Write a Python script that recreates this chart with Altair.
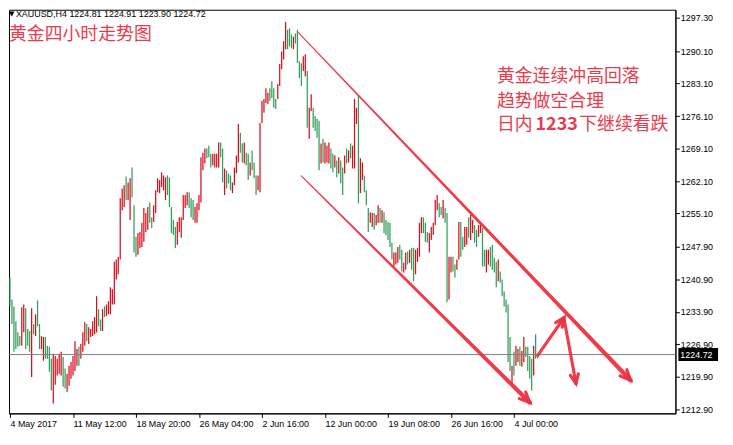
import math
import altair as alt
import pandas as pd

# ---- data (H4 bars: high, low, 1 = up/red, 0 = down/green) ----
high = [1241.3, 1236.6, 1235.1, 1231.9, 1229.5, 1228.7, 1234.9, 1235.5, 1234.7, 1230.2,
        1229.8, 1234.7, 1231.3, 1233.4, 1236.4, 1231.3, 1228.7, 1228.5, 1228.5, 1226.6,
        1226.4, 1223.8, 1224.9, 1224.4, 1223.8, 1224.9, 1225.3, 1224.2, 1221.7, 1220.6,
        1222.3, 1223.1, 1224.4, 1227.6, 1225.9, 1226.4, 1227.0, 1229.5, 1231.7, 1231.3,
        1230.6, 1230.2, 1231.9, 1232.8, 1237.3, 1234.5, 1232.3, 1234.5, 1235.1, 1235.5,
        1236.2, 1239.2, 1238.8, 1244.7, 1245.2, 1245.8, 1258.4, 1260.5, 1261.2, 1263.1,
        1261.8, 1262.7, 1265.0, 1256.9, 1250.1, 1250.9, 1251.1, 1253.1, 1256.3, 1255.2,
        1256.5, 1257.5, 1254.3, 1256.9, 1260.1, 1262.7, 1262.3, 1264.0, 1263.3, 1262.9,
        1263.3, 1262.9, 1256.5, 1253.7, 1252.2, 1253.3, 1254.3, 1254.3, 1259.1, 1259.1,
        1259.7, 1259.7, 1258.4, 1258.0, 1256.5, 1257.3, 1259.1, 1267.2, 1268.2, 1269.1,
        1269.1, 1269.7, 1268.0, 1268.0, 1268.0, 1268.0, 1270.4, 1270.4, 1269.1, 1264.8,
        1264.4, 1263.7, 1263.3, 1261.8, 1265.0, 1267.6, 1274.4, 1272.5, 1270.2, 1270.4,
        1268.2, 1268.0, 1266.1, 1268.7, 1266.1, 1263.3, 1263.3, 1274.6, 1279.4, 1279.8,
        1282.1, 1281.1, 1282.1, 1283.6, 1282.1, 1279.8, 1283.0, 1287.3, 1290.0, 1292.2,
        1296.4, 1294.7, 1295.0, 1293.7, 1293.2, 1293.9, 1294.7, 1287.9, 1287.5, 1289.0,
        1289.4, 1285.8, 1277.9, 1280.8, 1277.9, 1276.1, 1275.5, 1275.1, 1270.2, 1271.2,
        1270.4, 1269.7, 1270.4, 1269.1, 1268.0, 1267.6, 1266.5, 1267.2, 1266.5, 1265.0,
        1267.6, 1269.1, 1268.7, 1270.2, 1269.7, 1279.8, 1277.9, 1280.4, 1267.0, 1266.1,
        1263.3, 1260.1, 1256.3, 1255.4, 1255.2, 1255.2, 1254.8, 1256.9, 1256.3, 1255.8,
        1255.4, 1253.7, 1253.3, 1253.1, 1248.8, 1246.7, 1246.7, 1247.9, 1248.4, 1247.3,
        1244.5, 1246.7, 1246.9, 1247.3, 1247.7, 1247.7, 1247.3, 1247.7, 1253.1, 1254.3,
        1254.3, 1253.1, 1251.1, 1250.9, 1252.2, 1253.1, 1258.0, 1259.1, 1257.3, 1256.5,
        1258.0, 1256.3, 1255.2, 1245.8, 1245.8, 1245.8, 1244.1, 1245.2, 1253.3, 1253.3,
        1250.1, 1252.2, 1252.2, 1254.3, 1254.8, 1253.7, 1252.6, 1251.6, 1252.6, 1253.1,
        1252.0, 1247.3, 1247.3, 1247.3, 1247.9, 1248.4, 1245.6, 1244.7, 1245.2, 1242.6,
        1240.9, 1238.3, 1236.6, 1235.5, 1228.5, 1222.3, 1225.3, 1226.6, 1225.9, 1226.4,
        1225.5, 1228.5, 1226.4, 1226.4, 1224.4, 1223.8, 1226.6, 1229.1, 1224.91]
low = [1235.1, 1231.3, 1225.3, 1225.9, 1226.4, 1226.6, 1226.6, 1229.5, 1225.9, 1226.6,
       1225.3, 1219.9, 1229.1, 1228.7, 1230.8, 1225.9, 1225.9, 1223.4, 1223.8, 1223.8,
       1221.0, 1217.0, 1214.2, 1218.2, 1220.2, 1220.6, 1220.2, 1217.8, 1217.4, 1216.7,
       1218.0, 1219.5, 1220.2, 1221.2, 1222.3, 1222.3, 1223.8, 1225.3, 1226.6, 1227.6,
       1227.0, 1228.5, 1228.7, 1229.1, 1229.5, 1230.8, 1229.8, 1229.8, 1232.8, 1233.0,
       1233.4, 1233.4, 1235.5, 1235.5, 1240.9, 1242.0, 1245.2, 1255.8, 1256.5, 1258.0,
       1258.0, 1253.7, 1258.6, 1246.7, 1245.8, 1246.2, 1247.7, 1247.9, 1249.0, 1251.1,
       1251.6, 1253.1, 1252.0, 1253.3, 1255.2, 1259.7, 1259.5, 1260.8, 1260.1, 1258.0,
       1259.1, 1256.5, 1250.9, 1250.5, 1247.7, 1248.4, 1251.1, 1249.9, 1253.7, 1256.3,
       1256.9, 1256.3, 1254.3, 1253.7, 1253.1, 1253.1, 1255.8, 1257.5, 1264.4, 1265.9,
       1267.0, 1267.2, 1265.0, 1265.5, 1265.0, 1265.0, 1265.0, 1267.2, 1261.8, 1259.1,
       1260.5, 1261.6, 1260.1, 1259.5, 1261.2, 1263.8, 1266.1, 1268.2, 1266.1, 1265.9,
       1265.5, 1262.3, 1263.3, 1264.4, 1262.7, 1259.1, 1260.1, 1259.7, 1274.6, 1276.8,
       1278.9, 1278.7, 1279.4, 1280.0, 1277.9, 1277.6, 1279.8, 1282.6, 1286.2, 1288.3,
       1290.5, 1290.5, 1291.1, 1290.7, 1290.5, 1291.7, 1287.5, 1284.3, 1282.6, 1285.8,
       1284.7, 1273.6, 1271.2, 1277.2, 1273.6, 1272.9, 1271.4, 1264.4, 1265.9, 1266.1,
       1265.9, 1266.1, 1265.9, 1264.8, 1264.0, 1265.0, 1262.9, 1263.7, 1261.6, 1259.1,
       1263.7, 1265.9, 1266.1, 1267.0, 1264.8, 1264.8, 1274.4, 1257.3, 1259.5, 1262.3,
       1259.7, 1256.9, 1251.1, 1253.1, 1252.2, 1251.6, 1252.6, 1253.1, 1253.1, 1253.1,
       1250.9, 1250.5, 1249.4, 1247.9, 1245.2, 1243.7, 1244.1, 1244.5, 1245.2, 1242.6,
       1242.4, 1243.0, 1244.1, 1244.5, 1243.0, 1240.5, 1242.0, 1244.7, 1245.8, 1250.9,
       1250.9, 1249.0, 1248.8, 1246.7, 1249.4, 1250.5, 1252.6, 1255.8, 1254.3, 1254.8,
       1254.1, 1253.1, 1236.0, 1236.6, 1242.4, 1242.6, 1241.3, 1243.0, 1245.2, 1245.8,
       1247.3, 1247.9, 1248.4, 1249.9, 1249.4, 1250.9, 1248.8, 1247.9, 1250.1, 1250.9,
       1243.7, 1243.7, 1242.4, 1244.1, 1243.7, 1243.0, 1242.4, 1239.2, 1240.5, 1240.2,
       1237.3, 1235.1, 1233.8, 1223.1, 1221.2, 1218.5, 1220.2, 1222.3, 1223.1, 1222.3,
       1222.1, 1223.1, 1224.2, 1221.2, 1219.5, 1217.0, 1220.2, 1223.8, 1223.90]
up = [0, 0, 0, 0, 0, 0, 1, 1, 0, 0, 0, 1, 0, 1, 0, 0, 1, 1, 0, 0,
      0, 0, 1, 1, 1, 1, 1, 0, 0, 1, 1, 1, 1, 1, 1, 0, 1, 1, 1, 0,
      1, 1, 1, 1, 1, 0, 0, 1, 0, 1, 1, 1, 1, 1, 1, 1, 1, 1, 1, 0,
      1, 1, 0, 0, 0, 1, 1, 1, 1, 1, 1, 0, 0, 1, 1, 1, 1, 1, 1, 1,
      0, 0, 0, 0, 0, 1, 1, 1, 1, 1, 1, 0, 0, 0, 1, 1, 1, 1, 1, 1,
      0, 0, 0, 1, 1, 1, 1, 0, 0, 1, 0, 0, 0, 1, 1, 1, 1, 0, 0, 1,
      0, 0, 1, 0, 0, 0, 1, 1, 1, 1, 1, 1, 0, 0, 0, 0, 1, 1, 1, 1,
      1, 0, 0, 0, 1, 0, 0, 0, 0, 1, 1, 0, 1, 1, 0, 0, 0, 0, 1, 0,
      1, 1, 1, 0, 0, 1, 0, 1, 0, 0, 1, 0, 1, 0, 1, 1, 1, 0, 1, 1,
      0, 0, 0, 1, 1, 0, 1, 1, 0, 1, 0, 0, 0, 0, 0, 1, 1, 1, 0, 0,
      1, 1, 0, 1, 0, 0, 1, 1, 1, 1, 0, 0, 0, 1, 1, 1, 1, 1, 0, 0,
      1, 0, 0, 1, 1, 0, 0, 1, 1, 0, 0, 1, 1, 0, 1, 1, 0, 0, 1, 1,
      0, 0, 1, 1, 0, 0, 0, 0, 1, 0, 0, 0, 0, 0, 0, 1, 0, 1, 1, 0,
      1, 1, 0, 0, 0, 0, 1, 0, 0]

tick_idx = [0, 32, 64, 96, 128, 160, 192, 224, 256]
tick_text = ["4 May 2017", "11 May 12:00", "18 May 20:00", "26 May 04:00", "2 Jun 16:00",
             "12 Jun 00:00", "19 Jun 08:00", "26 Jun 16:00", "4 Jul 00:00"]
price_ticks = [1297.30, 1290.10, 1283.10, 1276.10, 1269.10, 1262.10, 1255.10,
               1247.90, 1240.90, 1233.90, 1226.90, 1219.90, 1212.90]
last_price = 1224.72
header_text = "XAUUSD,H4  1224.81 1224.91 1223.90 1224.72"
title_text = "黄金四小时走势图"
note_lines = ["黄金连续冲高回落", "趋势做空合理"]
note_line3 = ["日内", "1233", "下继续看跌"]

# hand-drawn channel lines / arrows in data units: (name, start, end, width0, width1, head size)
arrows = [
    ("upper", (146.0, 1294.3), (315.2, 1219.2), 1.0, 4.5, 420),
    ("lower", (148.0, 1263.2), (264.0, 1214.4), 1.2, 4.5, 420),
    ("up1", (268.0, 1224.5), (281.5, 1232.7), 3.0, 3.2, 330),
    ("down1", (281.5, 1232.3), (287.5, 1218.5), 3.0, 3.2, 330),
]

# ---- layout ----
W, H = 672, 407
X_DOM = [-0.5, 338]
Y_DOM = [1212.05, 1299.0]
RED = "#d80d1c"
GREEN = "#2f9f58"
ANN = "#ee3040"
TXT = "#e83c4e"
FONT = "Liberation Sans"
CJK = "Noto Sans CJK SC"

xs = alt.Scale(domain=X_DOM, nice=False, zero=False)
ys = alt.Scale(domain=Y_DOM, nice=False, zero=False)

bars = pd.DataFrame({
    "i": list(range(len(high))),
    "high": high,
    "low": low,
    "dir": ["up" if u else "down" for u in up],
})

arr_js = "[" + ",".join("'%s'" % t for t in tick_text) + "]"
idx_js = "[" + ",".join(str(v) for v in tick_idx) + "]"

x_axis = alt.Axis(values=tick_idx, labelExpr=f"{arr_js}[indexof({idx_js}, datum.value)]",
                  title=None, tickSize=4, tickColor="black", domainColor="black",
                  labelAlign="left", labelBaseline="top", labelPadding=2,
                  labelFont=FONT, labelFontSize=9, labelColor="black", grid=False,
                  labelOverlap=False, labelFlush=False)
y_axis = alt.Axis(orient="right", values=price_ticks, format=".2f", title=None,
                  tickSize=4, tickColor="black", domainColor="black",
                  labelAlign="left", labelBaseline="middle", labelPadding=1,
                  labelFont=FONT, labelFontSize=9, labelColor="black", grid=False,
                  labelOverlap=False)

def X(field):
    return alt.X(field, scale=xs, axis=x_axis)

def Y(field=None, datum=None):
    if datum is not None:
        return alt.Y(datum=datum, scale=ys, axis=y_axis)
    return alt.Y(field, scale=ys, axis=y_axis)

one = pd.DataFrame({"a": [0]})

bar_layer = alt.Chart(bars).mark_rule(strokeWidth=1.25).encode(
    x=X("i:Q"),
    y=Y("high:Q"),
    y2="low:Q",
    color=alt.Color("dir:N", scale=alt.Scale(domain=["up", "down"], range=[RED, GREEN]),
                    legend=None),
)

price_line = alt.Chart(one).mark_rule(color="#808080", strokeWidth=1).encode(
    y=Y(datum=last_price))

px_bar = W / (X_DOM[1] - X_DOM[0])
px_unit = H / (Y_DOM[1] - Y_DOM[0])

trail_rows, head_rows = [], []
for name, s, e, w0, w1, hs in arrows:
    trail_rows.append({"name": name, "i": s[0], "p": s[1], "w": w0, "o": 0})
    trail_rows.append({"name": name, "i": e[0], "p": e[1], "w": w1, "o": 1})
    dx = (e[0] - s[0]) * px_bar
    dy = -(e[1] - s[1]) * px_unit
    ang = math.degrees(math.atan2(dx, -dy)) % 360
    head_rows.append({"name": name, "i": e[0], "p": e[1], "ang": ang, "s": hs})

trails = alt.Chart(pd.DataFrame(trail_rows)).mark_trail(color=ANN, opacity=0.95).encode(
    x=X("i:Q"),
    y=Y("p:Q"),
    size=alt.Size("w:Q", scale=None, legend=None),
    detail="name:N",
    order="o:Q",
)

heads = alt.Chart(pd.DataFrame(head_rows)).mark_point(
    shape="M-0.45,1L0,0L0.45,1", filled=False, color=ANN, strokeWidth=3.2,
    opacity=0.95, strokeJoin="miter", strokeCap="round").encode(
    x=X("i:Q"),
    y=Y("p:Q"),
    angle=alt.Angle("ang:Q", scale=None),
    size=alt.Size("s:Q", scale=None, legend=None),
)

def txt(text, x, y, size, color, font, weight="normal", align="left"):
    return alt.Chart(one).mark_text(text=text, align=align, baseline="middle",
                                    fontSize=size, font=font, color=color,
                                    fontWeight=weight).encode(
        x=alt.value(x), y=alt.value(y))

texts = [
    txt("▼", 0, 4, 7, "black", "DejaVu Sans"),
    txt(header_text, 7, 4, 9, "black", FONT),
    txt(title_text, 0, 25.5, 18, TXT, CJK),
    txt(note_lines[0], 492, 67.5, 18, TXT, CJK),
    txt(note_lines[1], 492, 93.5, 18, TXT, CJK),
    txt(note_line3[0], 492, 116.5, 18, TXT, CJK),
    txt(note_line3[1], 531, 116.5, 18, TXT, CJK, weight="bold"),
    txt(note_line3[2], 575, 116.5, 18, TXT, CJK),
]

box = alt.Chart(one).mark_rule(color="black", strokeWidth=13, strokeCap="butt").encode(
    x=alt.value(W + 3), x2=alt.value(W + 43), y=Y(datum=last_price))
box_text = alt.Chart(one).mark_text(text=f"{last_price:.2f}", align="left", baseline="middle",
                                    fontSize=9, font=FONT, color="white").encode(
    x=alt.value(W + 5), y=Y(datum=last_price))

chart = alt.layer(bar_layer, price_line, trails, heads, box, box_text, *texts).properties(
    width=W, height=H, padding=0, background="white"
).configure_view(stroke="black", strokeWidth=1)

chart.save("out.html", embed_options={"renderer": "svg", "actions": False})
